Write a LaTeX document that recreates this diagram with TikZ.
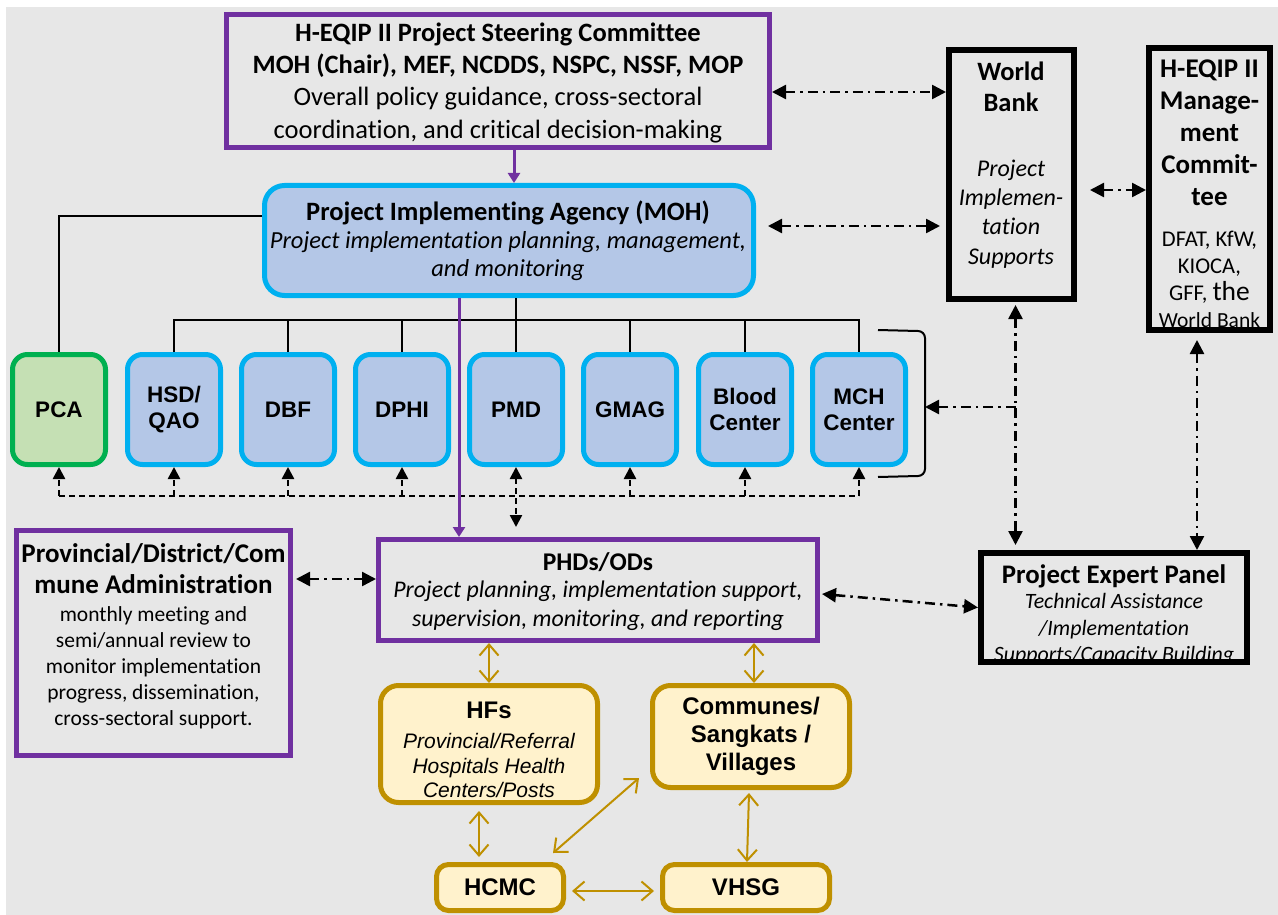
\documentclass[tikz,border=0pt]{standalone}
\usepackage{fontspec}
\setmainfont{Carlito}[Ligatures=NoCommon]
\newfontfamily\arialfont{Liberation Sans}
\usetikzlibrary{arrows.meta}

\definecolor{heqpurple}{HTML}{7030A0}
\definecolor{heqcyan}{HTML}{00B0F0}
\definecolor{heqblue}{HTML}{B4C7E7}
\definecolor{heqgreen}{HTML}{00B050}
\definecolor{heqlgreen}{HTML}{C5E0B4}
\definecolor{heqgold}{HTML}{BF9000}
\definecolor{heqcream}{HTML}{FFF2CC}
\definecolor{heqgray}{HTML}{E7E7E7}

\tikzset{
  purplebox/.style={draw=heqpurple, line width=5pt, inner sep=0pt},
  blackbox/.style={draw=black, line width=6pt, inner sep=0pt},
  unit/.style={draw=heqcyan, fill=heqblue, line width=5pt, rounded corners=15pt,
    minimum width=93pt, minimum height=110pt, inner sep=0pt, align=center,
    font=\arialfont\bfseries\fontsize{22.5}{26}\selectfont},
  local/.style={draw=heqgold, fill=heqcream, line width=5pt, rounded corners=18pt,
    inner sep=0pt, align=center},
  link/.style={line width=2.5pt},
  dashlink/.style={line width=2.5pt, dash pattern=on 6pt off 4pt},
  ddlink/.style={line width=2.5pt, dash pattern=on 10pt off 5pt on 2.5pt off 5pt,
    {Triangle[length=14pt,width=14pt]}-{Triangle[length=14pt,width=14pt]}},
  goldarrow/.style={draw=heqgold, line width=2pt,
    {Straight Barb[length=11pt,width=19pt]}-{Straight Barb[length=11pt,width=19pt]}},
}

\begin{document}
\begin{tikzpicture}[x=1pt,y=-1pt]
      \useasboundingbox (0,0) rectangle (1278,915);
      \fill[heqgray] (6,7) rectangle (1278,915);

      % Steering committee and agency
      \node[purplebox, minimum width=543pt, minimum height=133pt] (steer) at (498,81) {};
      \node[font=\bfseries\fontsize{26.5}{32.5}\selectfont, align=center] (steertitle) at (498,50)
          {H-EQIP II Project Steering Committee\\MOH (Chair), MEF, NCDDS, NSPC, NSSF, MOP};
      \node[font=\fontsize{26.5}{32.5}\selectfont, align=center] (steertext) at (498,115)
          {Overall policy guidance, cross-sectoral\\coordination, and critical decision-making};

      \node[draw=heqcyan, fill=heqblue, line width=5pt, rounded corners=20pt,
          minimum width=489pt, minimum height=110pt] (pia) at (509,240.5) {};
      \node[font=\bfseries\fontsize{26.5}{29}\selectfont] (piatitle) at (508,213) {Project Implementing Agency (MOH)};
      \node[font=\itshape\fontsize{24.5}{28.5}\selectfont, align=center] (piatext) at (508,256)
          {Project implementation planning, management,\\and monitoring};

      % World Bank and management committee
      \node[blackbox, minimum width=125pt, minimum height=249pt] (wb) at (1011.5,174.5) {};
      \node[font=\bfseries\fontsize{26.5}{31}\selectfont, align=center] (wbtitle) at (1011,86.5) {World\\Bank};
      \node[font=\itshape\fontsize{24}{29.3}\selectfont, align=center] (wbtext) at (1011,214)
          {Project\\Implemen-\\tation\\Supports};

      \node[blackbox, minimum width=121pt, minimum height=282pt] (mgmt) at (1209.5,189) {};
      \node[font=\bfseries\fontsize{27}{32}\selectfont, align=center] (mgmttitle) at (1209.5,133)
          {H-EQIP II\\Manage-\\ment\\Commit-\\tee};
      \node[font=\fontsize{22.5}{27}\selectfont, align=center] (mgmttext) at (1209.5,279)
          {DFAT, KfW,\\KIOCA,\\GFF, {\fontsize{27.5}{27}\selectfont the}\\{\fontsize{21.5}{27}\selectfont World Bank}};

      % Departments
      \node[unit, draw=heqgreen, fill=heqlgreen] (pca) at (59,409.5) {PCA};
      \foreach \name/\x/\txt in {hsd/174/{HSD/\\QAO}, dbf/288/DBF, dphi/402/DPHI, pmd/516/PMD,
          gmag/630/GMAG, blood/745/{Blood\\Center}, mch/859/{MCH\\Center}} {
          \node[unit] (\name) at (\x,409.5) {\txt};
      }

      \draw[link] ([yshift=24.5pt]pia.west) -| (pca.north);
      \coordinate (bus) at (516,320);
      \draw[link] (pia.south -| pmd) -- (pmd.north);
      \draw[link] (hsd.north) |- (bus) -| (mch.north);
      \foreach \name in {dbf,dphi,gmag,blood} {
          \draw[link] (\name.north) -- (\name.north |- bus);
      }

      % Dashed links under the departments
      \coordinate (dbus) at (516,496);
      \draw[dashlink] (dbus -| pca) -- (dbus -| mch);
      \foreach \name in {pca,hsd,dbf,dphi,gmag,blood,mch} {
          \draw[dashlink, -{Triangle[length=12pt,width=12pt]}] (dbus -| \name) -- (\name.south);
      }

      % Bracket round the departments
      \draw[line width=2pt] (878,330) -- (918,331) to[out=0,in=90] (925,338) -- (925,469)
          to[out=-90,in=0] (918,476) -- (878,477);
      \coordinate (brk) at (925,407);

      % Provincial level
      \node[purplebox, minimum width=439pt, minimum height=101pt] (phd) at (598,590) {};
      \node[font=\bfseries\fontsize{25.5}{29}\selectfont] (phdtitle) at (598,562) {PHDs/ODs};
      \node[font=\itshape\fontsize{23.9}{29}\selectfont, align=center] (phdtext) at (598,605.5)
          {Project planning, implementation support,\\supervision, monitoring, and reporting};

      \draw[dashlink, {Triangle[length=12pt,width=12pt]}-{Triangle[length=12pt,width=12pt]}]
          (pmd.south) -- ([yshift=10pt]pmd.south |- phd.north);

      \node[purplebox, minimum width=274pt, minimum height=225pt] (admin) at (153.5,643) {};
      \node[font=\bfseries\fontsize{27}{31}\selectfont, align=center] (admintitle) at (153.5,568.5)
          {Provincial/District/Com\\mune Administration};
      \node[font=\fontsize{21.5}{26}\selectfont, align=center] (admintext) at (153.5,668)
          {monthly meeting and\\semi/annual review to\\monitor implementation\\progress, dissemination,\\cross-sectoral support.};

      \node[blackbox, minimum width=266pt, minimum height=109pt] (expert) at (1114,607.5) {};
      \node[font=\bfseries\fontsize{26.8}{30}\selectfont] (experttitle) at (1114,576) {Project Expert Panel};
      \node[font=\itshape\fontsize{21.9}{26.5}\selectfont, align=center] (experttext) at (1114,629.5)
          {Technical Assistance\\/Implementation\\Supports/Capacity Building};

      % Local level
      \node[local, minimum width=217pt, minimum height=117pt] (hf) at (489,744) {};
      \node[font=\arialfont\bfseries\fontsize{24}{28}\selectfont] (hftitle) at (489,710) {HFs};
      \node[font=\arialfont\itshape\fontsize{21}{24.5}\selectfont, align=center] (hftext) at (489,765.5)
          {Provincial/Referral\\Hospitals Health\\Centers/Posts};
      \node[local, minimum width=197pt, minimum height=102pt,
          font=\arialfont\bfseries\fontsize{24}{28}\selectfont] (comm) at (751,736.5) {Communes/\\Sangkats /\\Villages};
      \node[local, rounded corners=12pt, minimum width=127pt, minimum height=46pt,
          font=\arialfont\bfseries\fontsize{24}{28}\selectfont] (hcmc) at (500,887.5) {HCMC};
      \node[local, rounded corners=12pt, minimum width=167pt, minimum height=46pt,
          font=\arialfont\bfseries\fontsize{24}{28}\selectfont] (vhsg) at (746,887.5) {VHSG};

      % Solid purple arrows
      \draw[heqpurple, line width=3pt, -{Triangle[length=10pt,width=12pt]}]
          ([xshift=-2pt]steer.south -| pmd) -- ([xshift=-2pt]pia.north -| pmd);
      \draw[heqpurple, line width=3pt, -{Triangle[length=10pt,width=12pt]}]
          ([xshift=-50pt]pia.south) -- ([xshift=-50pt]pia.south |- phd.north);

      % Dash-dot links
      \draw[ddlink] ([yshift=-11pt]steer.east) -- ([yshift=-11pt]steer.east -| wb.west);
      \draw[ddlink] ([xshift=12pt,yshift=14.5pt]pia.east) -- ([xshift=-6pt,yshift=14.5pt]pia.east -| wb.west);
      \draw[ddlink] ([xshift=13pt,yshift=-15.5pt]wb.east) -- ([yshift=-15.5pt]wb.east -| mgmt.west);
      \draw[ddlink] ([xshift=4pt,yshift=-3pt]wb.south) -- ([xshift=4pt,yshift=5pt]wb.south |- expert.north);
      \draw[ddlink] ([xshift=-12.5pt,yshift=-7pt]mgmt.south) -- ([xshift=-12.5pt]mgmt.south |- expert.north);
      \draw[ddlink, -{Triangle[length=14pt,width=14pt]}] ([xshift=4pt]wb.south |- brk) -- (brk);
      \draw[ddlink] ([xshift=3pt,yshift=64pt]admin.east) -- ([yshift=64pt]admin.east -| phd.west);
      \draw[ddlink] ([xshift=2pt,yshift=-4pt]phd.east) -- (expert.west);

      % Gold arrows
      \draw[goldarrow] (phd.south -| hf) -- (hf.north);
      \draw[goldarrow] ([xshift=3pt]phd.south -| comm) -- ([xshift=3pt]comm.north);
      \draw[goldarrow] ([xshift=-10pt,yshift=-6pt]hf.south) -- ([xshift=-10pt,yshift=5pt]hf.south |- hcmc.north);
      \draw[goldarrow] ([xshift=-2pt,yshift=-3pt]comm.south) -- ([xshift=1pt]vhsg.north);
      \draw[goldarrow] ([xshift=53pt,yshift=9pt]hcmc.north) -- ([xshift=-11pt,yshift=-41.5pt]comm.west);
      \draw[goldarrow] ([xshift=6pt,yshift=-3.5pt]hcmc.east) -- ([xshift=-6pt,yshift=-3.5pt]vhsg.west);
\end{tikzpicture}
\end{document}
